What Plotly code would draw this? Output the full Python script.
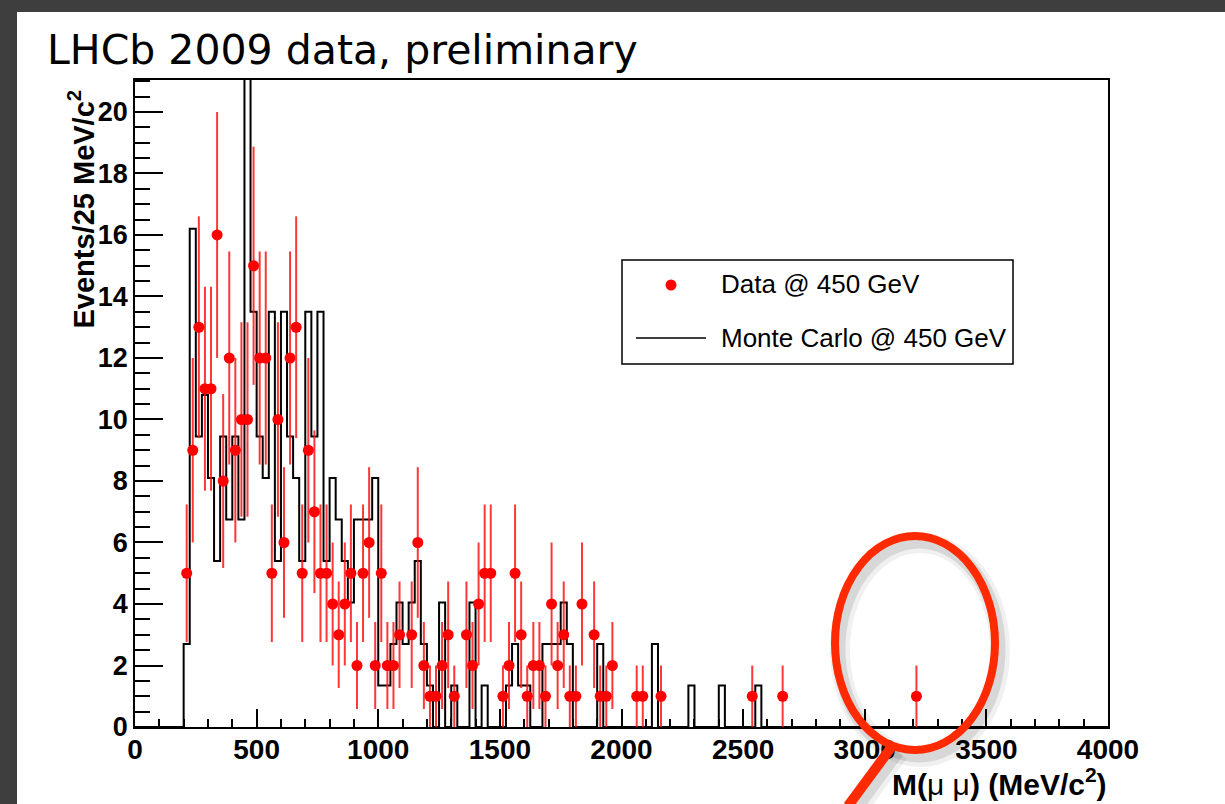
import numpy as np
import plotly.graph_objects as go

# ---------------- data ----------------
bin_width = 25.0  # MeV/c^2

# Data @ 450 GeV : bin centres (MeV/c^2) and event counts
data_mass = [212.5, 237.5, 262.5, 287.5, 312.5, 337.5, 362.5, 387.5, 412.5, 437.5,
             462.5, 487.5, 512.5, 537.5, 562.5, 587.5, 612.5, 637.5, 662.5, 687.5,
             712.5, 737.5, 762.5, 787.5, 812.5, 837.5, 862.5, 887.5, 912.5, 937.5,
             962.5, 987.5, 1012.5, 1037.5, 1062.5, 1087.5, 1137.5, 1162.5, 1187.5, 1212.5,
             1237.5, 1262.5, 1287.5, 1312.5, 1362.5, 1387.5, 1412.5, 1437.5, 1462.5, 1512.5,
             1537.5, 1562.5, 1587.5, 1612.5, 1637.5, 1662.5, 1687.5, 1712.5, 1737.5, 1762.5,
             1787.5, 1812.5, 1837.5, 1887.5, 1912.5, 1937.5, 1962.5, 2062.5, 2087.5, 2162.5,
             2537.5, 2662.5, 3212.5]
data_counts = [5, 9, 13, 11, 11, 16, 8, 12, 9, 10,
               10, 15, 12, 12, 5, 10, 6, 12, 13, 5,
               9, 7, 5, 5, 4, 3, 4, 5, 2, 5,
               6, 2, 5, 2, 2, 3, 3, 6, 2, 1,
               1, 2, 3, 1, 3, 2, 4, 5, 5, 1,
               2, 5, 3, 1, 2, 2, 1, 4, 2, 3,
               1, 1, 4, 3, 1, 1, 2, 1, 1, 1,
               1, 1, 1]

# Monte Carlo @ 450 GeV : lower bin edges (MeV/c^2) and heights (events/25 MeV/c^2)
mc_bin_low = [200, 225, 250, 275, 300, 325, 350, 375, 400, 425,
              450, 475, 500, 525, 550, 575, 600, 625, 650, 675,
              700, 725, 750, 775, 800, 825, 850, 875, 900, 925,
              950, 975, 1000, 1025, 1050, 1075, 1100, 1125, 1150, 1175,
              1200, 1250, 1300, 1375, 1425, 1525, 1550, 1575, 1600, 1675,
              1700, 1725, 1750, 1775, 1900, 2125, 2275, 2400, 2550]
mc_height = [2.7, 16.2, 9.45, 10.8, 8.1, 5.4, 9.45, 6.75, 9.45, 6.75,
             22.95, 13.5, 9.45, 8.1, 13.5, 5.4, 13.5, 9.45, 8.1, 5.4,
             13.5, 9.45, 13.5, 5.4, 8.1, 6.75, 5.4, 4.05, 6.75, 6.75,
             6.75, 8.1, 1.35, 1.35, 2.7, 4.05, 2.7, 4.05, 5.4, 2.7,
             1.35, 4.05, 1.35, 4.05, 1.35, 1.35, 2.7, 1.35, 1.35, 2.7,
             2.7, 2.7, 4.05, 2.7, 2.7, 2.7, 1.35, 1.35, 1.35]

x_range = [0, 4000]
y_range = [0, 21.04]
x_ticks = [0, 500, 1000, 1500, 2000, 2500, 3000, 3500, 4000]
y_ticks = [0, 2, 4, 6, 8, 10, 12, 14, 16, 18, 20]

# ---------------- build histogram outline ----------------
edges = np.arange(x_range[0], x_range[1] + bin_width, bin_width)
heights = np.zeros(len(edges) - 1)
for lo, h in zip(mc_bin_low, mc_height):
    heights[int(round(lo / bin_width))] = h
mc_y = np.append(heights, heights[-1])

counts = np.array(data_counts, dtype=float)

# ---------------- page geometry ----------------
W, H = 1225, 804
PL, PR, PT, PB = 135.0, 1108.0, 80.0, 727.0


def fx(p):
    return (p - PL) / (PR - PL)


def fy(p):
    return (PB - p) / (PB - PT)


RED = "#ff0000"
HL = "#ff2a00"
FONT = "Liberation Sans"

fig = go.Figure()

fig.add_trace(go.Scatter(
    x=edges, y=mc_y, mode="lines", line=dict(shape="hv", color="black", width=2),
    name="Monte Carlo @ 450 GeV", showlegend=False, hoverinfo="skip"))

fig.add_trace(go.Scatter(
    x=data_mass, y=data_counts, mode="markers",
    marker=dict(color=RED, size=11, line=dict(width=0)),
    error_y=dict(type="data", array=np.sqrt(counts), color="rgba(255,20,20,0.85)",
                 thickness=2, width=0),
    error_x=dict(type="constant", value=bin_width / 2, color=RED, thickness=1.5, width=0),
    name="Data @ 450 GeV", showlegend=False))

shapes = []
# slide background (white sheet on a dark frame)
shapes.append(dict(type="rect", xref="paper", yref="paper", layer="below",
                   x0=fx(17), x1=fx(W + 5), y0=fy(H + 5), y1=fy(12),
                   fillcolor="white", line=dict(width=0)))
# legend box
shapes.append(dict(type="rect", xref="paper", yref="paper",
                   x0=fx(622), x1=fx(1013), y0=fy(364), y1=fy(260),
                   fillcolor="white", line=dict(color="black", width=1.5)))
shapes.append(dict(type="circle", xref="paper", yref="paper",
                   x0=fx(665.5), x1=fx(676.5), y0=fy(290.5), y1=fy(279.5),
                   fillcolor=RED, line=dict(width=0)))
shapes.append(dict(type="line", xref="paper", yref="paper",
                   x0=fx(636), x1=fx(706), y0=fy(338), y1=fy(338),
                   line=dict(color="black", width=1.5)))
# highlight ellipse with magnifier handle (shadow first)
for dx, dy, w, c in [(5, 7, 20, "rgba(0,0,0,0.06)"), (4, 6, 13, "rgba(0,0,0,0.10)")]:
    shapes.append(dict(type="circle", xref="paper", yref="paper",
                       x0=fx(835 + dx), x1=fx(995 + dx), y0=fy(750 + dy), y1=fy(536 + dy),
                       line=dict(color=c, width=w)))
    shapes.append(dict(type="line", xref="paper", yref="paper",
                       x0=fx(893 + dx), x1=fx(848 + dx), y0=fy(745 + dy), y1=fy(806 + dy),
                       line=dict(color=c, width=w + 2)))
shapes.append(dict(type="circle", xref="paper", yref="paper",
                   x0=fx(835), x1=fx(995), y0=fy(750), y1=fy(536),
                   line=dict(color=HL, width=8)))
shapes.append(dict(type="line", xref="paper", yref="paper",
                   x0=fx(893), x1=fx(848), y0=fy(745), y1=fy(806),
                   line=dict(color=HL, width=10)))

annotations = [
    dict(text="LHCb 2009 data, preliminary", xref="paper", yref="paper",
         x=fx(45), y=fy(50), xanchor="left", yanchor="middle", showarrow=False,
         font=dict(family="DejaVu Sans", size=41, color="black")),
    dict(text="<b>Events/25 MeV/c</b><sup><b>2</b></sup>", xref="paper", yref="paper",
         x=fx(82), y=fy(88), xanchor="center", yanchor="top", textangle=-90,
         showarrow=False, font=dict(family=FONT, size=29, color="black")),
    dict(text="<b>M(</b>\u03bc\u00a0\u03bc<b>) (MeV/c</b><sup><b>2</b></sup><b>)</b>",
         xref="paper", yref="paper", x=fx(1109), y=fy(782), xanchor="right",
         yanchor="middle", showarrow=False, font=dict(family=FONT, size=30, color="black")),
    dict(text="Data @ 450 GeV", xref="paper", yref="paper", x=fx(719), y=fy(284),
         xanchor="left", yanchor="middle", showarrow=False,
         font=dict(family=FONT, size=26, color="black")),
    dict(text="Monte Carlo @ 450 GeV", xref="paper", yref="paper", x=fx(719), y=fy(338),
         xanchor="left", yanchor="middle", showarrow=False,
         font=dict(family=FONT, size=26, color="black")),
]

fig.update_layout(
    width=W, height=H, autosize=False,
    margin=dict(l=PL, r=W - PR, t=PT, b=H - PB, pad=0),
    paper_bgcolor="#3e3e3e", plot_bgcolor="white",
    shapes=shapes, annotations=annotations, showlegend=False,
    xaxis=dict(range=x_range, tickvals=x_ticks, ticks="inside", ticklen=18, tickwidth=1.5,
               tickcolor="black", showline=True, linecolor="black", linewidth=1.5, mirror=True,
               showgrid=False, zeroline=False, ticklabelstandoff=-3,
               tickfont=dict(family=FONT, size=28, color="black", weight="bold"),
               minor=dict(dtick=100, ticks="inside", ticklen=8, tickwidth=1.5, tickcolor="black",
                          showgrid=False)),
    yaxis=dict(range=y_range, tickvals=y_ticks, ticks="inside", ticklen=28, tickwidth=1.5,
               tickcolor="black", showline=True, linecolor="black", linewidth=1.5, mirror=True,
               showgrid=False, zeroline=False,
               tickfont=dict(family=FONT, size=27, color="black", weight="bold"),
               minor=dict(dtick=0.5, ticks="inside", ticklen=15, tickwidth=1.5, tickcolor="black",
                          showgrid=False)),
)

fig.write_html("out.html", config={"displayModeBar": False},
               post_script="document.body.style.margin='0';document.body.style.overflow='hidden';")
